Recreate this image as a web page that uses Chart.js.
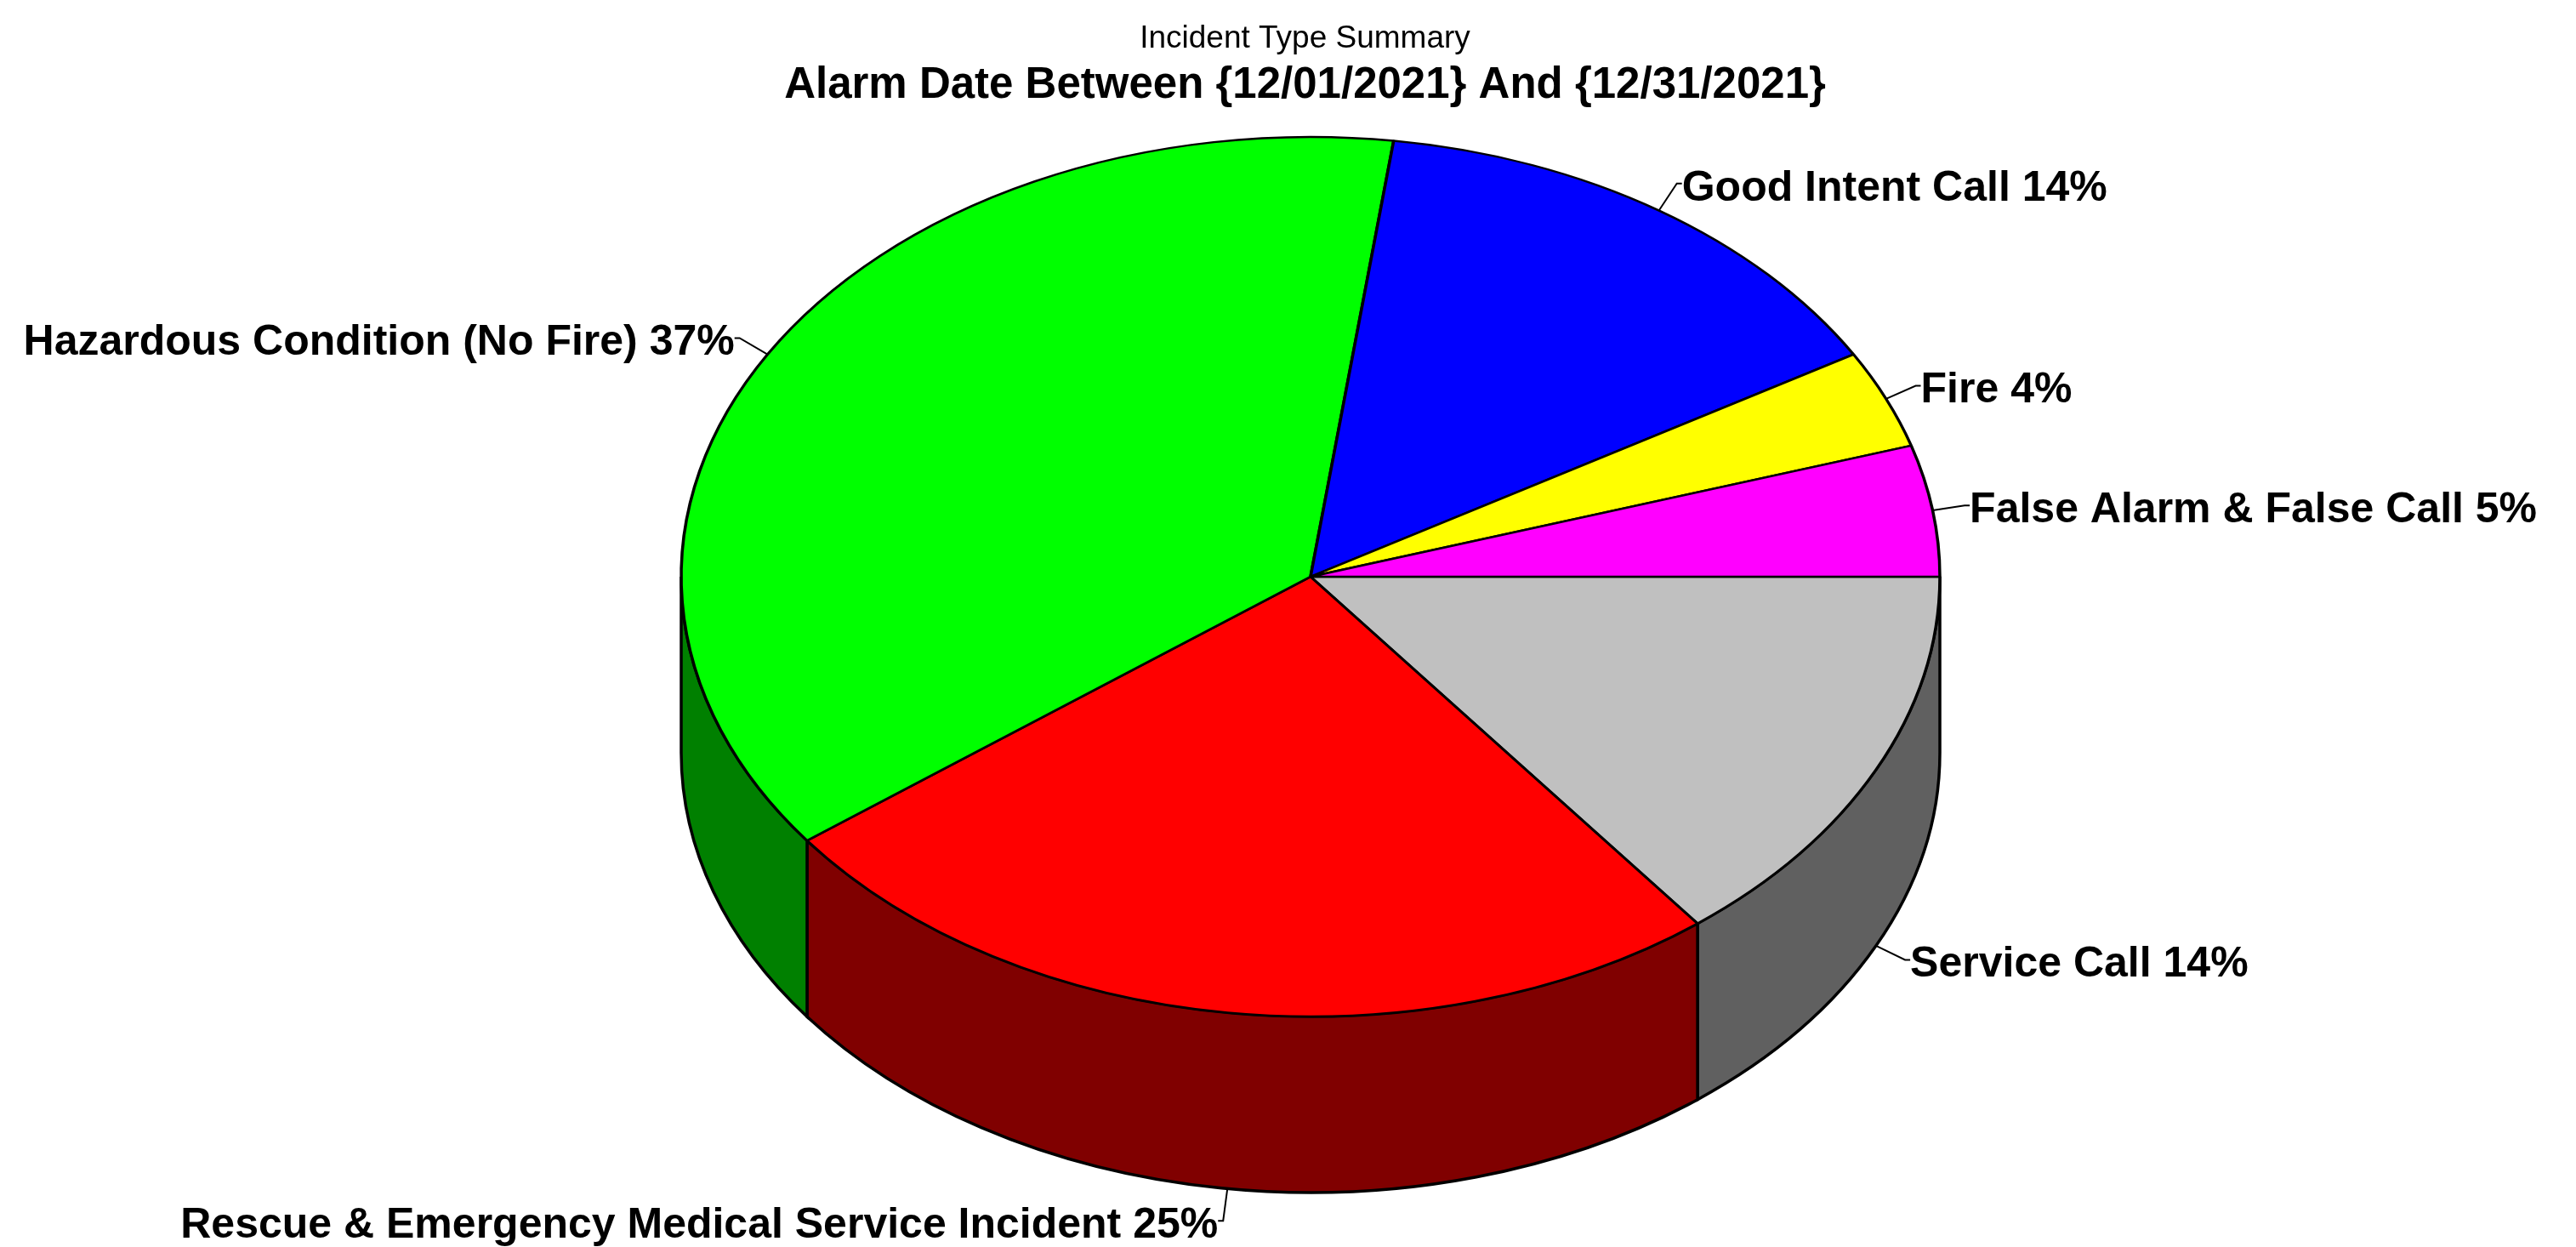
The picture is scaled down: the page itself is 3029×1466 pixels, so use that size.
<!DOCTYPE html>
<html>
<head>
<meta charset="utf-8">
<title>Incident Type Summary</title>
<script src="https://cdn.jsdelivr.net/npm/chart.js@4.4.1/dist/chart.umd.min.js"></script>
<style>
  html, body { margin: 0; padding: 0; background: #fff; overflow: hidden; }
  #chart-wrap { width: 3029px; height: 1466px; }
</style>
</head>
<body>
<div id="chart-wrap">
  <canvas id="incidentPie" width="3029" height="1466"></canvas>
</div>
<script>
// slices go clockwise starting at 3 o'clock
const incidentTypes = [
  'Service Call',
  'Rescue & Emergency Medical Service Incident',
  'Hazardous Condition (No Fire)',
  'Good Intent Call',
  'Fire',
  'False Alarm & False Call'
];
const incidentCounts = [12, 21, 31, 12, 3, 4];
const incidentPercents = [14, 25, 37, 14, 4, 5];
const topColors = ['#c0c0c0', '#ff0000', '#00ff00', '#0000ff', '#ffff00', '#ff00ff'];
const sideColors = ['#606060', '#800000', '#008000', '#000080', '#808000', '#800080'];

// projection of the pie into a tilted ellipse
const PIE_CX = 1541;
const PIE_CY = 678;
const PIE_RX = 740;
const PIE_RY = 517;
const PIE_DEPTH = 207;

const labelFont = "bold 50px 'Liberation Sans', Arial, sans-serif";

function drawSides(ctx, arcs) {
  ctx.save();
  ctx.lineWidth = 3.5;
  ctx.strokeStyle = '#000';
  ctx.lineJoin = 'miter';
  arcs.forEach((arc, i) => {
    const a1 = Math.max(arc.startAngle, 0);
    const a2 = Math.min(arc.endAngle, Math.PI);
    if (a2 <= a1) return;
    ctx.beginPath();
    ctx.moveTo(PIE_CX + PIE_RX * Math.cos(a1), PIE_CY + PIE_RY * Math.sin(a1));
    ctx.ellipse(PIE_CX, PIE_CY, PIE_RX, PIE_RY, 0, a1, a2);
    ctx.lineTo(PIE_CX + PIE_RX * Math.cos(a2), PIE_CY + PIE_RY * Math.sin(a2) + PIE_DEPTH);
    ctx.ellipse(PIE_CX, PIE_CY + PIE_DEPTH, PIE_RX, PIE_RY, 0, a2, a1, true);
    ctx.closePath();
    ctx.fillStyle = sideColors[i];
    ctx.fill();
    ctx.stroke();
  });
  ctx.restore();
}

const tiltedPie = {
  id: 'tiltedPie',
  beforeDatasetsDraw(chart) {
    const ctx = chart.ctx;
    const arcs = chart.getDatasetMeta(0).data;
    if (!arcs.length) return;
    drawSides(ctx, arcs);
    const first = arcs[0];
    const r = first.outerRadius;
    ctx.save();
    ctx.translate(PIE_CX, PIE_CY);
    ctx.scale(PIE_RX / r, PIE_RY / r);
    ctx.translate(-first.x, -first.y);
  },
  afterDatasetsDraw(chart) {
    if (chart.getDatasetMeta(0).data.length) chart.ctx.restore();
  },
  afterDraw(chart) {
    const ctx = chart.ctx;
    const arcs = chart.getDatasetMeta(0).data;
    ctx.save();
    ctx.font = labelFont;
    ctx.fillStyle = '#000';
    ctx.strokeStyle = '#000';
    ctx.lineWidth = 2;
    ctx.textBaseline = 'middle';
    arcs.forEach((arc, i) => {
      const mid = (arc.startAngle + arc.endAngle) / 2;
      const cos = Math.cos(mid);
      const sin = Math.sin(mid);
      const px = PIE_CX + PIE_RX * cos;
      const py = PIE_CY + PIE_RY * sin + (sin > 0 ? PIE_DEPTH : 0);
      const lx = px + 38 * cos;
      const ly = py + 38 * sin;
      const dir = cos >= 0 ? 1 : -1;
      ctx.beginPath();
      ctx.moveTo(px, py);
      ctx.lineTo(lx, ly);
      ctx.lineTo(lx + dir * 6, ly);
      ctx.stroke();
      ctx.textAlign = dir > 0 ? 'left' : 'right';
      ctx.fillText(incidentTypes[i] + ' ' + incidentPercents[i] + '%', lx + dir * 6, ly + 6);
    });
    ctx.restore();
  }
};

Chart.defaults.font.family = "'Liberation Sans', Arial, sans-serif";
Chart.defaults.color = '#000';

new Chart(document.getElementById('incidentPie'), {
  type: 'pie',
  data: {
    labels: incidentTypes,
    datasets: [{
      data: incidentCounts,
      backgroundColor: topColors,
      borderColor: '#000',
      borderWidth: 3,
      clip: false
    }]
  },
  options: {
    responsive: false,
    animation: false,
    events: [],
    rotation: 90,
    layout: { padding: { top: 20, bottom: 60, left: 80, right: 40 } },
    plugins: {
      legend: { display: false },
      tooltip: { enabled: false },
      title: {
        display: true,
        text: 'Incident Type Summary',
        font: { size: 37, weight: 'normal' },
        padding: { top: 4, bottom: 2 }
      },
      subtitle: {
        display: true,
        text: 'Alarm Date Between {12/01/2021} And {12/31/2021}',
        font: { size: 51, weight: 'bold' },
        padding: { top: 0, bottom: 10 }
      }
    }
  },
  plugins: [tiltedPie]
});
</script>
</body>
</html>
